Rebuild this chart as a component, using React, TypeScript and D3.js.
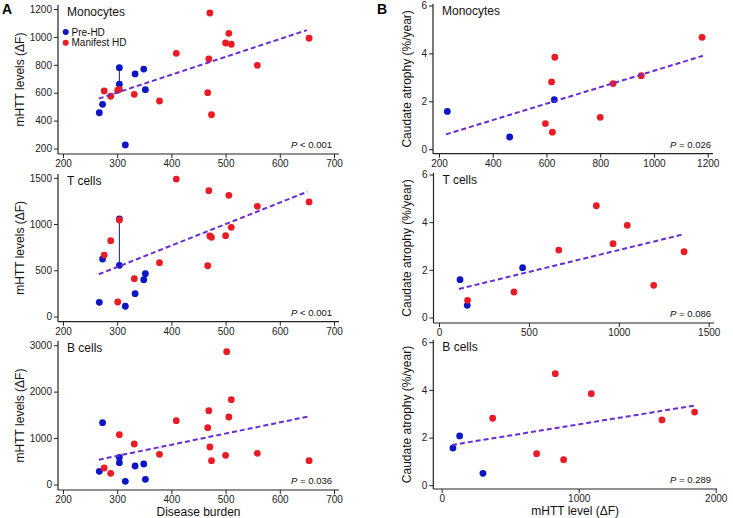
import React, { useRef, useEffect } from 'react';
import * as d3 from 'd3';

// ---- panel A: disease burden vs mHTT levels ----
const burdenTicks = [200, 300, 400, 500, 600, 700];

const monoPreX = [267, 273, 304, 304, 315, 333, 349, 352];
const monoPreY = [460, 520, 783, 664, 229, 738, 773, 625];
const monoHdX = [276, 288, 301, 304, 331.5, 378, 409, 467, 469, 471, 474, 500, 506, 510.5, 558.5, 654];
const monoHdY = [616, 578, 621, 628, 592, 544, 886, 604, 845, 1175, 446, 960, 1029, 951, 800, 994];

const tPreX = [267, 273, 304, 304, 315, 333, 349, 352];
const tPreY = [159, 627, 1060, 559, 116, 252, 403, 468];
const tHdX = [276, 288, 301, 304, 331.5, 378, 409, 467, 469, 471, 474, 500, 506, 510.5, 558.5, 654];
const tHdY = [670, 825, 162, 1049, 414, 587, 1492, 555, 1366, 876, 862, 879, 1316, 970, 1197, 1244];

const bPreX = [267, 273, 304, 304, 315, 333, 349, 352];
const bPreY = [295, 1342, 596, 481, 80, 409, 452, 122];
const bHdX = [276, 288, 304, 331.5, 378, 409, 467, 469, 471, 474, 500, 502, 506, 510.5, 558.5, 654];
const bHdY = [366, 251, 1084, 883, 661, 1385, 1234, 1600, 818, 524, 640, 2871, 1465, 1838, 683, 524];

// ---- panel B: mHTT level vs caudate atrophy ----
const atrophyTicks = [0, 2, 4, 6];

const monoAtPreX = [231, 463, 629];
const monoAtPreY = [1.6, 0.53, 2.09];
const monoAtHdX = [596, 619, 622, 631, 800, 848, 953, 1179];
const monoAtHdY = [1.09, 2.83, 0.73, 3.86, 1.35, 2.76, 3.09, 4.69];

const tAtPreX = [117, 157, 465];
const tAtPreY = [1.61, 0.53, 2.11];
const tAtHdX = [159, 417, 666, 875, 968, 1047, 1194, 1363];
const tAtHdY = [0.74, 1.09, 2.85, 4.71, 3.12, 3.89, 1.37, 2.78];

const bAtPreX = [82, 131, 301];
const bAtPreY = [1.58, 2.09, 0.52];
const bAtHdX = [372, 693, 829, 890, 1092, 1608, 1846];
const bAtHdY = [2.83, 1.34, 4.7, 1.09, 3.86, 2.76, 3.09];

// fitted lines: [x0, y0, x1, y1]
const fits = {
  A1: [266, 561, 650, 1052],
  A2: [266, 462, 651, 1355],
  A3: [266, 545, 651, 1471],
  B1: [226, 0.64, 1182, 3.92],
  B2: [111, 1.22, 1359, 3.51],
  B3: [75, 1.71, 1854, 3.37],
};

// same subject measured twice: [x, yLow, yHigh]
const links = {
  A1: [304, 664, 783],
  A2: [304, 559, 1060],
  A3: [304, 481, 596],
};

const pValues = {
  A1: '< 0.001', A2: '< 0.001', A3: '= 0.036',
  B1: '= 0.026', B2: '= 0.086', B3: '= 0.289',
};

const BLUE = '#0c16c2';
const RED = '#ea1b24';
const FIT = '#6a2bd6';
const FONT = '"Liberation Sans", Arial, Helvetica, sans-serif';

const zip = (xs: number[], ys: number[]) => xs.map((x, i) => ({ x, y: ys[i] }));

const panels = [
  { id: 'A1', title: 'Monocytes', xd: [200, 700], xr: [63, 334], yd: [200, 1200], yr: [149, 9.5],
    ax: 58, ay: 154, top: 5, right: 339, xt: burdenTicks, yt: [200, 400, 600, 800, 1000, 1200],
    pre: zip(monoPreX, monoPreY), hd: zip(monoHdX, monoHdY), px: 332, ylab: 'mHTT levels (ΔF)', lx: 20 },
  { id: 'A2', title: 'T cells', xd: [200, 700], xr: [63, 334], yd: [0, 1500], yr: [317, 178.3],
    ax: 58, ay: 321.7, top: 174, right: 339, xt: burdenTicks, yt: [0, 500, 1000, 1500],
    pre: zip(tPreX, tPreY), hd: zip(tHdX, tHdY), px: 332, ylab: 'mHTT levels (ΔF)', lx: 20 },
  { id: 'A3', title: 'B cells', xd: [200, 700], xr: [63, 334], yd: [0, 3000], yr: [485, 345.7],
    ax: 58, ay: 490, top: 341, right: 339, xt: burdenTicks, yt: [0, 1000, 2000, 3000],
    pre: zip(bPreX, bPreY), hd: zip(bHdX, bHdY), px: 332, ylab: 'mHTT levels (ΔF)', lx: 20,
    xlab: 'Disease burden' },
  { id: 'B1', title: 'Monocytes', xd: [200, 1200], xr: [439, 707.7], yd: [0, 6], yr: [149.7, 6],
    ax: 433, ay: 153.7, top: 4, right: 713, xt: [200, 400, 600, 800, 1000, 1200], yt: atrophyTicks,
    pre: zip(monoAtPreX, monoAtPreY), hd: zip(monoAtHdX, monoAtHdY), px: 711, ylab: 'Caudate atrophy (%/year)', lx: 407 },
  { id: 'B2', title: 'T cells', xd: [0, 1500], xr: [439, 708.7], yd: [0, 6], yr: [318, 175],
    ax: 433.5, ay: 323, top: 173, right: 714, xt: [0, 500, 1000, 1500], yt: atrophyTicks,
    pre: zip(tAtPreX, tAtPreY), hd: zip(tAtHdX, tAtHdY), px: 711, ylab: 'Caudate atrophy (%/year)', lx: 407 },
  { id: 'B3', title: 'B cells', xd: [0, 2000], xr: [441.7, 715.7], yd: [0, 6], yr: [485.7, 342.7],
    ax: 433.3, ay: 489, top: 340, right: 717, xt: [0, 1000, 2000], yt: atrophyTicks,
    pre: zip(bAtPreX, bAtPreY), hd: zip(bAtHdX, bAtHdY), px: 711, ylab: 'Caudate atrophy (%/year)', lx: 407,
    xlab: 'mHTT level (ΔF)' },
];

const App = () => {
  const ref = useRef<SVGSVGElement>(null);

  useEffect(() => {
    const svg = d3.select(ref.current);
    svg.selectAll('*').remove();
    svg.attr('font-family', FONT);

    panels.forEach((p: any) => {
      const x = d3.scaleLinear().domain(p.xd).range(p.xr);
      const y = d3.scaleLinear().domain(p.yd).range(p.yr);
      const g = svg.append('g');

      // axes
      const xa = g.append('g').attr('transform', `translate(0,${p.ay})`)
        .call(d3.axisBottom(x).tickValues(p.xt).tickSize(4).tickPadding(2).tickFormat(d3.format('d')));
      const ya = g.append('g').attr('transform', `translate(${p.ax},0)`)
        .call(d3.axisLeft(y).tickValues(p.yt).tickSize(4).tickPadding(2).tickFormat(d3.format('d')));
      [xa, ya].forEach((a) => {
        a.select('.domain').remove();
        a.selectAll('line').attr('stroke', '#222');
        a.selectAll('text').attr('font-size', 10).attr('fill', '#222').attr('font-family', FONT);
      });
      ya.selectAll('.tick').attr('transform', (d: any) => `translate(0,${y(d)})`);
      g.append('line').attr('x1', p.ax).attr('x2', p.right).attr('y1', p.ay).attr('y2', p.ay)
        .attr('stroke', '#222').attr('stroke-width', 1.2);
      g.append('line').attr('x1', p.ax).attr('x2', p.ax).attr('y1', p.top).attr('y2', p.ay)
        .attr('stroke', '#222').attr('stroke-width', 1.2);

      // link between repeated measures
      const lk = (links as any)[p.id];
      if (lk) {
        g.append('line').attr('x1', x(lk[0])).attr('x2', x(lk[0]))
          .attr('y1', y(lk[1])).attr('y2', y(lk[2])).attr('stroke', BLUE).attr('stroke-width', 1);
      }

      // points
      g.append('g').selectAll('circle').data(p.pre).join('circle')
        .attr('cx', (d: any) => x(d.x)).attr('cy', (d: any) => y(d.y)).attr('r', 3.4).attr('fill', BLUE);
      g.append('g').selectAll('circle').data(p.hd).join('circle')
        .attr('cx', (d: any) => x(d.x)).attr('cy', (d: any) => y(d.y)).attr('r', 3.4).attr('fill', RED);

      // fit
      const f = (fits as any)[p.id];
      g.append('line').attr('x1', x(f[0])).attr('y1', y(f[1])).attr('x2', x(f[2])).attr('y2', y(f[3]))
        .attr('stroke', FIT).attr('stroke-width', 2).attr('stroke-dasharray', '5,3');

      // title
      g.append('text').attr('x', p.ax + 9).attr('y', p.top + 10.5).attr('font-size', 12)
        .attr('fill', '#111').text(p.title);

      // p value
      const pt = g.append('text').attr('x', p.px).attr('y', p.ay - 6).attr('font-size', 9.5)
        .attr('text-anchor', 'end').attr('fill', '#111');
      pt.append('tspan').attr('font-style', 'italic').text('P');
      pt.append('tspan').text(' ' + (pValues as any)[p.id]);

      // y label
      const cy = (p.top + p.ay) / 2;
      g.append('text').attr('transform', `translate(${p.lx},${cy}) rotate(-90)`)
        .attr('text-anchor', 'middle').attr('dy', '0.35em').attr('font-size', 12).attr('fill', '#111')
        .text(p.ylab);

      if (p.xlab) {
        g.append('text').attr('x', (p.ax + p.right) / 2).attr('y', p.ay + 26)
          .attr('text-anchor', 'middle').attr('font-size', 12).attr('fill', '#111').text(p.xlab);
      }
    });

    // legend
    const lg = svg.append('g').attr('font-size', 10).attr('fill', '#111');
    [{ label: 'Pre-HD', c: BLUE }, { label: 'Manifest HD', c: RED }].forEach((d, i) => {
      lg.append('circle').attr('cx', 65.7).attr('cy', 32 + i * 10.7).attr('r', 3).attr('fill', d.c);
      lg.append('text').attr('x', 71.5).attr('y', 32 + i * 10.7).attr('dy', '0.35em').text(d.label);
    });

    // panel letters
    svg.append('text').attr('x', 2).attr('y', 14).attr('font-size', 14).attr('font-weight', 'bold').text('A');
    svg.append('text').attr('x', 377).attr('y', 14).attr('font-size', 14).attr('font-weight', 'bold').text('B');
  }, []);

  return (
    <div style={{ position: 'absolute', left: 0, top: 0 }}>
      <svg ref={ref} width={733} height={518} style={{ background: '#fff', display: 'block' }}></svg>
    </div>
  );
};

export default App;
